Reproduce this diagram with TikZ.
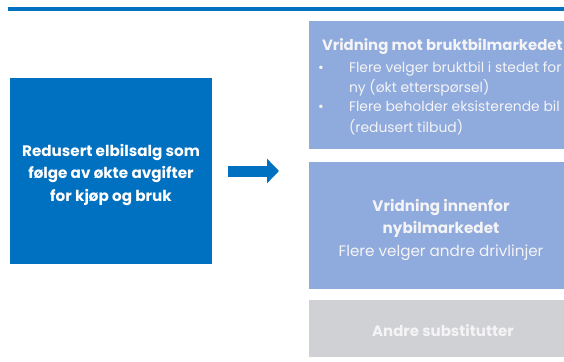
\documentclass[tikz,border=0pt]{standalone}
\usepackage{fontspec}
\setmainfont{Poppins}
\usetikzlibrary{arrows.meta}
\definecolor{dblue}{RGB}{0,112,192}
\definecolor{lblue}{RGB}{143,170,220}
\definecolor{lgray}{RGB}{208,209,212}
\definecolor{txt}{RGB}{244,244,246}
\tikzset{
  panel/.style={rectangle, inner sep=0pt, outer sep=0pt, draw=none},
  lbl/.style={inner sep=0pt, outer sep=0pt, text=txt},
  bul/.style={lbl, anchor=base west, font=\fontsize{13.9}{16}\selectfont},
  blockarrow/.style={dblue, line width=11pt, -{Triangle[width=24pt,length=12pt]}}
}
\begin{document}
\begin{tikzpicture}[x=1pt,y=-1pt]
\useasboundingbox (0,0) rectangle (564,361);
\fill[white] (0,0) rectangle (564,361);
\coordinate (ruleL) at (8,9);
\coordinate (ruleR) at (564,9);
\draw[dblue, line width=3.4pt] (ruleL) -- (ruleR);

\node[panel, fill=dblue, minimum width=202pt, minimum height=186pt] (cause) at (111,171) {};
\node[lbl, align=center, text=white, font=\bfseries\fontsize{15.2}{22.5}\selectfont] (causetxt) at (111,175)
  {Redusert elbilsalg som\\følge av økte avgifter\\for kjøp og bruk};

\node[panel, fill=lblue, minimum width=255pt, minimum height=128pt] (used) at (436.5,85) {};
\node[panel, fill=lblue, minimum width=255pt, minimum height=127pt] (new) at (436.5,225.5) {};
\node[lbl, align=center, font=\fontsize{15.2}{22.5}\selectfont] (newtxt) at (441,229.5)
  {{\bfseries Vridning innenfor}\\{\bfseries nybilmarkedet}\\Flere velger andre drivlinjer};
\node[panel, fill=lgray, minimum width=255pt, minimum height=57pt] (other) at (436.5,328.5) {};
\node[lbl, font=\bfseries\fontsize{15}{17}\selectfont] (othertxt) at (443,331) {Andre substitutter};

\node[lbl, anchor=base west, font=\bfseries\fontsize{14.9}{17}\selectfont] (t1) at (322,51) {Vridning mot bruktbilmarkedet};
\node[bul] (b1) at (318,72) {•};
\node[bul] (l1) at (349,72) {Flere velger bruktbil i stedet for};
\node[bul] (l2) at (349,92) {ny (økt etterspørsel)};
\node[bul] (b2) at (318,111) {•};
\node[bul] (l3) at (349,111) {Flere beholder eksisterende bil};
\node[bul] (l4) at (349,132) {(redusert tilbud)};

\draw[blockarrow, shorten <=16pt, shorten >=30pt] (cause.east) -- (cause.east -| new.west);
\end{tikzpicture}
\end{document}
